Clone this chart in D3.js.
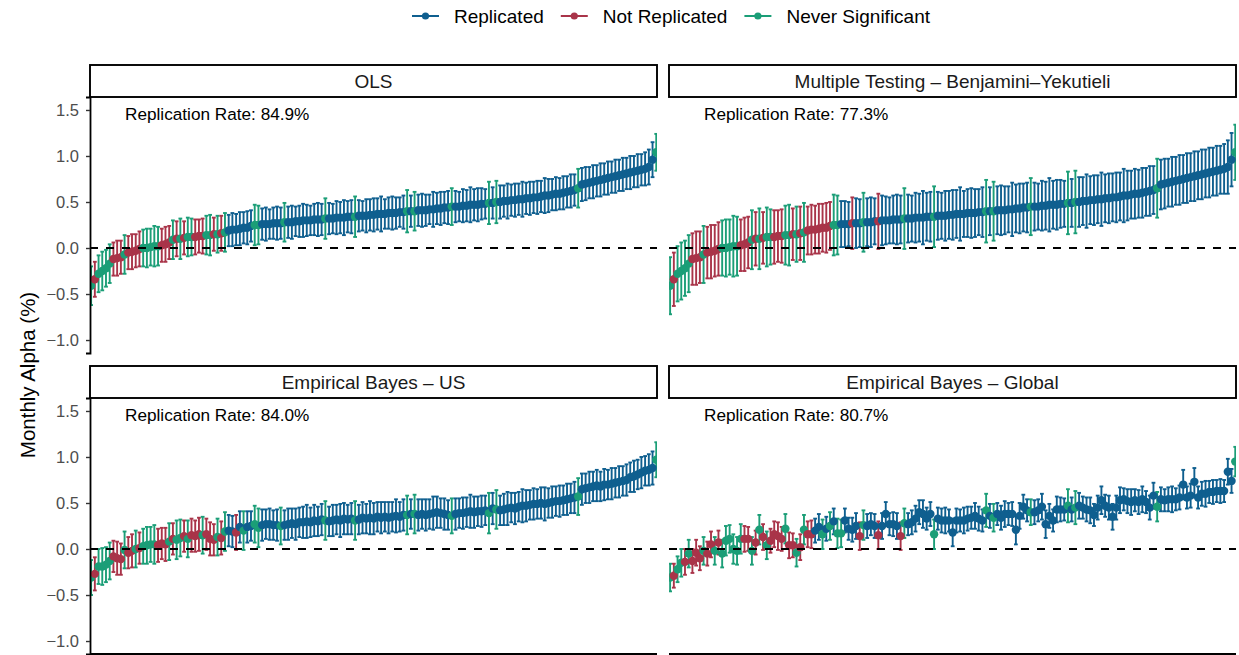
<!DOCTYPE html>
<html>
<head>
<meta charset="utf-8">
<script src="https://cdn.jsdelivr.net/npm/d3@7"></script>
<style>
  body { margin: 0; background: #fff; }
  text { font-family: "Liberation Sans", Arial, Helvetica, sans-serif; }
</style>
</head>
<body>
<svg id="chart"></svg>
<script>
// ---- data: factors sorted by OLS alpha (monthly, %), +/- half width of the CI ----
const statusNames = {B: 'Replicated', R: 'Not Replicated', G: 'Never Significant'};
const statusOrder = ['B', 'R', 'G'];

const olsAlpha = [-0.41,-0.34,-0.28,-0.25,-0.22,-0.17,-0.12,-0.11,-0.10,-0.07,
  -0.05,-0.04,-0.03,-0.01,0.00,0.00,0.01,0.02,0.02,0.03,
  0.04,0.06,0.09,0.10,0.10,0.11,0.12,0.12,0.12,0.13,
  0.13,0.14,0.14,0.15,0.15,0.16,0.17,0.19,0.20,0.20,
  0.21,0.22,0.22,0.24,0.25,0.25,0.26,0.26,0.26,0.27,
  0.27,0.27,0.28,0.28,0.28,0.29,0.29,0.30,0.30,0.30,
  0.31,0.31,0.31,0.32,0.32,0.32,0.33,0.33,0.33,0.34,
  0.34,0.34,0.35,0.35,0.35,0.36,0.36,0.37,0.37,0.37,
  0.38,0.38,0.38,0.39,0.39,0.40,0.40,0.40,0.41,0.41,
  0.41,0.42,0.42,0.43,0.43,0.44,0.44,0.45,0.45,0.45,
  0.46,0.46,0.47,0.47,0.47,0.48,0.48,0.49,0.49,0.50,
  0.50,0.51,0.51,0.52,0.52,0.53,0.53,0.54,0.54,0.55,
  0.55,0.56,0.57,0.57,0.58,0.59,0.59,0.60,0.61,0.62,
  0.63,0.65,0.69,0.70,0.71,0.72,0.73,0.74,0.75,0.76,
  0.77,0.78,0.79,0.80,0.81,0.82,0.83,0.84,0.85,0.86,
  0.88,0.96,1.04];

const olsErr = [0.21,0.19,0.20,0.21,0.20,0.21,0.18,0.19,0.18,0.21,
  0.18,0.19,0.18,0.19,0.20,0.21,0.20,0.22,0.21,0.18,
  0.19,0.18,0.21,0.19,0.22,0.18,0.21,0.20,0.19,0.18,
  0.19,0.21,0.22,0.18,0.20,0.19,0.21,0.17,0.18,0.17,
  0.18,0.17,0.18,0.17,0.22,0.21,0.17,0.18,0.16,0.17,
  0.18,0.17,0.21,0.17,0.18,0.16,0.17,0.18,0.17,0.16,
  0.17,0.18,0.17,0.22,0.17,0.16,0.18,0.17,0.19,0.17,
  0.18,0.22,0.17,0.16,0.18,0.17,0.18,0.17,0.19,0.16,
  0.17,0.18,0.17,0.16,0.18,0.23,0.17,0.21,0.17,0.18,
  0.17,0.16,0.19,0.17,0.18,0.17,0.18,0.20,0.17,0.16,
  0.18,0.17,0.19,0.17,0.18,0.17,0.16,0.23,0.17,0.23,
  0.18,0.17,0.19,0.17,0.18,0.17,0.19,0.17,0.18,0.17,
  0.18,0.17,0.19,0.18,0.17,0.18,0.17,0.18,0.17,0.18,
  0.17,0.21,0.18,0.18,0.17,0.18,0.17,0.18,0.17,0.18,
  0.17,0.18,0.17,0.18,0.17,0.18,0.17,0.18,0.17,0.18,
  0.19,0.19,0.20];

const byErr = [0.31,0.29,0.30,0.31,0.30,0.31,0.28,0.29,0.28,0.31,
  0.28,0.29,0.28,0.29,0.30,0.31,0.30,0.33,0.32,0.28,
  0.29,0.28,0.32,0.29,0.33,0.28,0.32,0.30,0.29,0.28,
  0.29,0.32,0.33,0.28,0.30,0.29,0.32,0.26,0.27,0.26,
  0.27,0.26,0.27,0.26,0.33,0.32,0.25,0.25,0.24,0.28,
  0.27,0.26,0.32,0.26,0.27,0.25,0.30,0.27,0.26,0.25,
  0.26,0.27,0.26,0.33,0.26,0.25,0.27,0.26,0.29,0.26,
  0.27,0.33,0.26,0.25,0.27,0.26,0.27,0.26,0.29,0.25,
  0.26,0.27,0.26,0.25,0.27,0.34,0.26,0.32,0.26,0.27,
  0.26,0.25,0.29,0.26,0.27,0.26,0.27,0.31,0.26,0.25,
  0.27,0.26,0.29,0.26,0.27,0.26,0.25,0.34,0.26,0.34,
  0.27,0.26,0.29,0.26,0.27,0.26,0.29,0.26,0.27,0.26,
  0.27,0.26,0.29,0.27,0.26,0.27,0.26,0.27,0.26,0.27,
  0.26,0.32,0.27,0.27,0.26,0.27,0.26,0.27,0.26,0.27,
  0.26,0.27,0.26,0.27,0.26,0.27,0.26,0.27,0.26,0.27,
  0.29,0.29,0.30];

const ebUsAlpha = [-0.31,-0.27,-0.19,-0.19,-0.17,-0.13,-0.08,-0.10,-0.11,-0.01,
  -0.04,-0.02,0.00,0.01,0.03,0.04,0.05,0.05,0.04,0.06,
  0.05,0.08,0.11,0.10,0.12,0.14,0.11,0.15,0.14,0.16,
  0.15,0.16,0.11,0.10,0.13,0.12,0.19,0.20,0.19,0.18,
  0.24,0.20,0.24,0.25,0.27,0.23,0.26,0.27,0.27,0.26,
  0.26,0.25,0.26,0.27,0.28,0.27,0.29,0.29,0.30,0.29,
  0.31,0.30,0.32,0.31,0.30,0.31,0.32,0.31,0.33,0.32,
  0.33,0.31,0.32,0.34,0.33,0.34,0.33,0.35,0.34,0.35,
  0.34,0.35,0.36,0.35,0.37,0.37,0.38,0.38,0.37,0.38,
  0.37,0.38,0.39,0.40,0.39,0.38,0.37,0.36,0.38,0.39,
  0.39,0.40,0.41,0.40,0.41,0.41,0.42,0.39,0.44,0.43,
  0.42,0.43,0.44,0.45,0.44,0.46,0.47,0.47,0.48,0.49,
  0.49,0.50,0.49,0.50,0.51,0.52,0.52,0.53,0.54,0.55,
  0.56,0.57,0.65,0.66,0.67,0.68,0.69,0.68,0.70,0.70,
  0.71,0.72,0.73,0.74,0.75,0.78,0.79,0.81,0.83,0.85,
  0.86,0.88,0.97];

const ebUsErr = [0.19,0.18,0.19,0.20,0.19,0.20,0.17,0.18,0.17,0.20,
  0.17,0.18,0.20,0.17,0.19,0.20,0.19,0.21,0.18,0.17,
  0.18,0.20,0.17,0.21,0.20,0.17,0.20,0.18,0.17,0.18,
  0.20,0.17,0.18,0.17,0.20,0.18,0.21,0.17,0.17,0.19,
  0.17,0.21,0.17,0.16,0.20,0.21,0.17,0.16,0.17,0.16,
  0.17,0.20,0.16,0.17,0.16,0.17,0.16,0.17,0.18,0.16,
  0.17,0.16,0.17,0.21,0.16,0.17,0.16,0.18,0.17,0.16,
  0.17,0.21,0.16,0.17,0.16,0.18,0.17,0.16,0.17,0.16,
  0.17,0.16,0.18,0.16,0.17,0.21,0.16,0.21,0.17,0.16,
  0.17,0.16,0.18,0.17,0.16,0.17,0.16,0.19,0.17,0.16,
  0.17,0.16,0.18,0.17,0.16,0.17,0.16,0.22,0.17,0.21,
  0.16,0.17,0.18,0.16,0.17,0.16,0.18,0.17,0.16,0.17,
  0.16,0.17,0.18,0.16,0.17,0.16,0.17,0.16,0.17,0.16,
  0.17,0.20,0.17,0.16,0.17,0.16,0.17,0.16,0.17,0.16,
  0.17,0.16,0.17,0.16,0.17,0.16,0.17,0.16,0.17,0.16,
  0.17,0.18,0.19];

const ebGlobalAlpha = [-0.31,-0.29,-0.22,-0.15,-0.14,-0.05,-0.13,-0.04,-0.10,-0.02,
  -0.05,0.05,-0.02,0.07,-0.05,0.09,0.11,0.00,-0.02,0.11,
  0.11,0.11,-0.02,0.07,0.21,0.13,0.04,0.09,0.16,0.14,
  0.11,0.22,0.04,0.04,-0.04,0.02,0.21,0.16,0.16,0.20,
  0.24,0.16,0.22,0.25,0.30,0.17,0.17,0.31,0.22,0.21,
  0.25,0.14,0.26,0.25,0.27,0.25,0.15,0.25,0.38,0.27,
  0.27,0.25,0.14,0.28,0.27,0.29,0.33,0.40,0.38,0.33,
  0.38,0.16,0.33,0.31,0.31,0.31,0.18,0.31,0.31,0.31,
  0.33,0.34,0.36,0.33,0.31,0.42,0.36,0.34,0.38,0.34,
  0.38,0.38,0.38,0.21,0.36,0.46,0.42,0.40,0.40,0.42,
  0.46,0.27,0.36,0.31,0.43,0.43,0.43,0.47,0.43,0.45,
  0.47,0.45,0.43,0.42,0.37,0.45,0.53,0.47,0.45,0.35,
  0.45,0.53,0.54,0.52,0.51,0.53,0.51,0.54,0.51,0.45,
  0.58,0.46,0.54,0.53,0.54,0.54,0.54,0.56,0.70,0.56,
  0.58,0.73,0.56,0.60,0.60,0.62,0.62,0.63,0.63,0.63,
  0.84,0.74,0.95];

const ebGlobalErr = [0.15,0.13,0.14,0.15,0.14,0.15,0.13,0.14,0.13,0.15,
  0.13,0.14,0.15,0.13,0.15,0.16,0.15,0.16,0.15,0.16,
  0.14,0.13,0.15,0.13,0.16,0.14,0.15,0.13,0.14,0.15,
  0.13,0.16,0.14,0.13,0.15,0.14,0.16,0.14,0.15,0.13,
  0.14,0.16,0.13,0.15,0.14,0.16,0.15,0.13,0.12,0.13,
  0.14,0.15,0.16,0.13,0.12,0.13,0.15,0.14,0.13,0.12,
  0.13,0.14,0.15,0.16,0.12,0.13,0.14,0.13,0.15,0.12,
  0.13,0.16,0.12,0.13,0.14,0.12,0.15,0.13,0.12,0.14,
  0.13,0.12,0.14,0.13,0.12,0.18,0.13,0.15,0.12,0.13,
  0.14,0.12,0.13,0.16,0.14,0.13,0.12,0.14,0.13,0.12,
  0.14,0.15,0.13,0.12,0.14,0.13,0.12,0.18,0.13,0.18,
  0.14,0.12,0.13,0.14,0.12,0.13,0.15,0.12,0.13,0.14,
  0.13,0.14,0.12,0.13,0.14,0.12,0.13,0.14,0.12,0.13,
  0.14,0.16,0.13,0.12,0.13,0.14,0.12,0.13,0.16,0.12,
  0.13,0.15,0.12,0.13,0.14,0.12,0.13,0.12,0.13,0.12,
  0.14,0.13,0.16];

// status per factor: B = replicated, R = not replicated, G = never significant
const tailStatus = "BBBBBBBBBB" + "BGBBBBBBBB" + "BBBBBGBGBB" + "BBBBBBBGBB" + "BBBBBBBGBG" +
  "BBBBBBBBBB" + "BBBBBBBBBB" + "BGBBBBBBBB" + "BBBBBBBBBB" + "BBG";
const olsStatus = ("GRGGGGRRRG" + "RRRRGGGGGR" + "RRGRGRGGRR" + "RGGRGRGBBB" +
  "BBBBGGBBBB" + "BBGBBBBBBB" + "BBBGBBBBBB" + tailStatus.slice(10)).split('');
const byStatus = ("GRGGGGRRRG" + "RRRRGGGGGR" + "RRGRGRGGRR" + "RGGRGRGRRR" +
  "RRRRGGBBBR" + "BBGBBBRBBB" + "BBBGBBBBBB" + tailStatus.slice(10)).split('');
const ebUsStatus = ("GRGGGGRRRG" + "RRGRGGGGRR" + "RGRGGRGRRR" + "GRRRGRGBBR" +
  "BGBBGGBBBB" + "BGBBBBBBBB" + "BBBGBBBBBB" + tailStatus.slice(10)).split('');
const ebGlobalStatus = ("GRGGRGRRRG" + "RRGRGGGGGG" + "RRGRGRGRRR" + "RGRRGRGRRB" +
  "BGBGBGGBBB" + "BRGBBBRBBB" + "BBRGBBBBBB" + tailStatus.slice(10)).split('');

const panelTitles = ['OLS', 'Multiple Testing \u2013 Benjamini\u2013Yekutieli',
  'Empirical Bayes \u2013 US', 'Empirical Bayes \u2013 Global'];
const replicationRates = ['84.9%', '77.3%', '84.0%', '80.7%'];
const yTicks = [-1.0, -0.5, 0.0, 0.5, 1.0, 1.5];

const panels = [
  {alpha: olsAlpha, err: olsErr, status: olsStatus},
  {alpha: olsAlpha, err: byErr, status: byStatus},
  {alpha: ebUsAlpha, err: ebUsErr, status: ebUsStatus},
  {alpha: ebGlobalAlpha, err: ebGlobalErr, status: ebGlobalStatus}
];

// ---- layout ----
const W = 1239, H = 655;
const pw = 567, ph = 256, stripH = 32;
const layout = [{x: 90, y: 97}, {x: 669, y: 97}, {x: 90, y: 398}, {x: 669, y: 398}];

const color = d3.scaleOrdinal().domain(statusOrder).range(['#0f5f8f', '#a93449', '#1b9e77']);
const x = d3.scaleLinear().domain([-0.3, 152.2]).range([0, pw]);
const y = d3.scaleLinear().domain([-1.141, 1.641]).range([ph, 0]);
const cap = 1.9, rad = 4.2;

const svg = d3.select('#chart').attr('width', W).attr('height', H);

panels.forEach((p, k) => {
  const pos = layout[k];
  const g = svg.append('g').attr('transform', `translate(${pos.x},${pos.y})`);
  const data = p.alpha.map((a, i) => ({i: i, a: a, e: p.err[i], s: p.status[i]}));

  g.append('clipPath').attr('id', 'clip' + k)
    .append('rect').attr('width', pw).attr('height', ph);
  const plot = g.append('g').attr('clip-path', `url(#clip${k})`);

  // error bars
  const bar = plot.selectAll('.bar').data(data).join('g')
    .attr('class', 'bar')
    .attr('stroke', d => color(d.s))
    .attr('stroke-width', 1.9);
  bar.append('line')
    .attr('x1', d => x(d.i)).attr('x2', d => x(d.i))
    .attr('y1', d => y(d.a - d.e)).attr('y2', d => y(d.a + d.e));
  bar.append('line')
    .attr('x1', d => x(d.i) - cap).attr('x2', d => x(d.i) + cap)
    .attr('y1', d => y(d.a + d.e)).attr('y2', d => y(d.a + d.e));
  bar.append('line')
    .attr('x1', d => x(d.i) - cap).attr('x2', d => x(d.i) + cap)
    .attr('y1', d => y(d.a - d.e)).attr('y2', d => y(d.a - d.e));

  // points
  plot.selectAll('.pt').data(data).join('circle')
    .attr('class', 'pt')
    .attr('cx', d => x(d.i)).attr('cy', d => y(d.a))
    .attr('r', rad)
    .attr('fill', d => color(d.s));

  // zero line
  plot.append('line')
    .attr('x1', 0).attr('x2', pw)
    .attr('y1', y(0)).attr('y2', y(0))
    .attr('stroke', '#000').attr('stroke-width', 1.8)
    .attr('stroke-dasharray', '8,8');

  // strip
  g.append('rect')
    .attr('x', 0).attr('y', -stripH)
    .attr('width', pw).attr('height', stripH)
    .attr('fill', '#fff').attr('stroke', '#000').attr('stroke-width', 1.9);
  g.append('text')
    .attr('x', pw / 2).attr('y', -stripH / 2)
    .attr('text-anchor', 'middle').attr('dominant-baseline', 'central')
    .attr('font-size', 19).attr('fill', '#1a1a1a')
    .text(panelTitles[k]);

  // annotation
  g.append('text')
    .attr('x', 35).attr('y', 17)
    .attr('dominant-baseline', 'central')
    .attr('font-size', 17.2).attr('fill', '#000')
    .text('Replication Rate: ' + replicationRates[k]);

  // y axis on left column
  if (k % 2 === 0) {
    const ax = g.append('g')
      .call(d3.axisLeft(y).tickValues(yTicks).tickSize(4).tickPadding(7).tickFormat(d3.format('.1f')));
    ax.select('.domain').attr('stroke', '#000').attr('stroke-width', 1.8);
    ax.selectAll('.tick line').attr('stroke', '#333').attr('stroke-width', 1.4);
    ax.selectAll('.tick text').attr('font-size', 16.5).attr('fill', '#4d4d4d')
      .attr('font-family', '"Liberation Sans", Arial, sans-serif');
  }
  // x axis line on bottom row
  if (k >= 2) {
    g.append('line')
      .attr('x1', 0).attr('x2', pw).attr('y1', ph).attr('y2', ph)
      .attr('stroke', '#000').attr('stroke-width', 1.8);
  }
});

// y axis title
svg.append('text')
  .attr('transform', 'translate(27,375) rotate(-90)')
  .attr('text-anchor', 'middle').attr('dominant-baseline', 'central')
  .attr('font-size', 20.5).attr('fill', '#000')
  .text('Monthly Alpha (%)');

// legend
const legend = svg.append('g').attr('transform', 'translate(412,16)');
let lx = 0;
statusOrder.forEach(s => {
  const item = legend.append('g').attr('transform', `translate(${lx},0)`);
  item.append('line').attr('x1', 0).attr('x2', 27).attr('y1', 0).attr('y2', 0)
    .attr('stroke', color(s)).attr('stroke-width', 2);
  item.append('circle').attr('cx', 13.5).attr('cy', 0).attr('r', 3.6).attr('fill', color(s));
  const t = item.append('text').attr('x', 42).attr('y', 0)
    .attr('dominant-baseline', 'central')
    .attr('font-size', 19).attr('fill', '#000')
    .text(statusNames[s]);
  lx += 42 + t.node().getComputedTextLength() + 17;
});
</script>
</body>
</html>
